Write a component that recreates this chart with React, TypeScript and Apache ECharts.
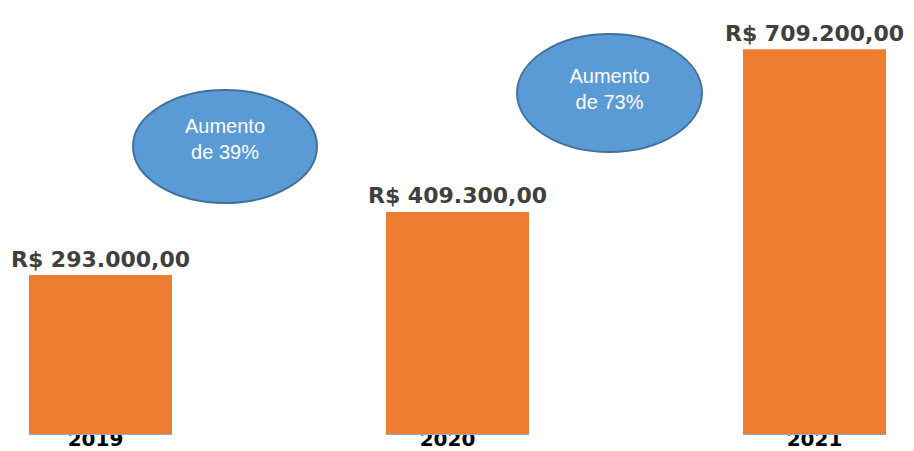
import React, { useEffect, useRef } from "react";
import * as echarts from "echarts";

const years = ["2019", "2020", "2021"];
const revenue = [293000, 409300, 709200];
const notes = ["Aumento\nde 39%", "Aumento\nde 73%"];

function brl(v: number): string {
  const [int, dec] = v.toFixed(2).split(".");
  return "R$ " + int.replace(/\B(?=(\d{3})+(?!\d))/g, ".") + "," + dec;
}

const yearShift = [10, 20, 0];

export default function App() {
  const ref = useRef<HTMLDivElement>(null);
  useEffect(() => {
    if (!ref.current) return;
    const chart = echarts.init(ref.current, null, { renderer: "svg" });
    const ellipse = (cx: number, cy: number, rx: number, ry: number, text: string, ty: number) => ({
      type: "group",
      children: [
        {
          type: "ellipse",
          shape: { cx, cy, rx, ry },
          style: { fill: "#5B9BD5", stroke: "#41719C", lineWidth: 2 },
        },
        {
          type: "text",
          x: cx,
          y: ty,
          style: {
            text,
            fill: "#ffffff",
            font: "20px 'Liberation Sans', Arial, sans-serif",
            align: "center",
            verticalAlign: "middle",
            lineHeight: 26,
          },
        },
      ],
    });
    chart.setOption({
      animation: false,
      backgroundColor: "#ffffff",
      grid: { left: 100.5, right: 99.5, top: 0, bottom: 17, containLabel: false, outerBoundsMode: "none" },
      xAxis: {
        type: "category",
        data: years.map((y, i) => ({ value: y, textStyle: { padding: [0, yearShift[i], 0, 0] } })),
        boundaryGap: false,
        axisLine: { show: false },
        axisTick: { show: false },
        axisLabel: {
          margin: -3,
          color: "#000000",
          fontWeight: "bold",
          fontSize: 20,
          lineHeight: 16,
          fontFamily: "'DejaVu Sans', Verdana, sans-serif",
        },
      },
      yAxis: {
        type: "value",
        min: 0,
        max: 800000,
        show: false,
        splitLine: { show: false },
      },
      series: [
        {
          type: "bar",
          data: revenue,
          barWidth: 143,
          itemStyle: { color: "#ED7D31" },
          label: {
            show: true,
            position: "top",
            distance: 5,
            formatter: (p: any) => brl(p.value),
            color: "#404040",
            fontWeight: "bold",
            fontSize: 22,
            fontFamily: "'DejaVu Sans', Verdana, sans-serif",
          },
        },
        {
          type: "custom",
          data: revenue.map((_, i) => [i, 0]),
          renderItem: (params: any, api: any) => {
            const p = api.coord([api.value(0), 0]);
            return {
              type: "line",
              shape: { x1: p[0] - 71.5, y1: p[1] + 0.5, x2: p[0] + 71.5, y2: p[1] + 0.5 },
              style: { stroke: "#8FAADC", lineWidth: 1 },
            };
          },
          silent: true,
          z: 3,
        },
      ],
      graphic: [
        ellipse(225, 146.5, 92, 56.5, notes[0], 139),
        ellipse(609.5, 93, 92.5, 59, notes[1], 89),
      ],
    });
    return () => chart.dispose();
  }, []);
  return <div ref={ref} style={{ position: "fixed", left: 0, top: 0, width: 914, height: 451 }} />;
}
